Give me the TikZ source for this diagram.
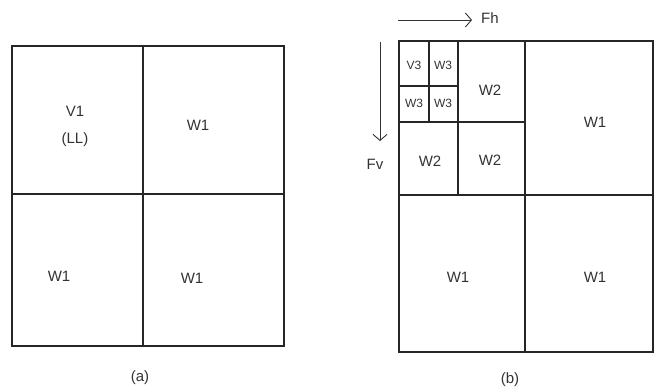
\documentclass[tikz,border=0pt]{standalone}
\usepackage{fontspec}
\setmainfont{Liberation Sans}
\usetikzlibrary{arrows.meta}
\begin{document}
\begin{tikzpicture}[x=1pt,y=-1pt,
  grid/.style={draw=black!85,line width=1.1pt},
  lbl/.style={font=\fontsize{15}{27}\selectfont,text=black!80,inner sep=0pt},
  small/.style={font=\fontsize{12}{13}\selectfont,text=black!80,inner sep=0pt},
  flow/.style={draw=black!80,line width=0.9pt,-{Straight Barb[length=6pt,width=14pt]}}]
\useasboundingbox (0,0) rectangle (656,389);
% (a)
\draw[grid] (12,46) rectangle (284,346);
\draw[grid] (143,46) -- (143,346);
\draw[grid] (12,194) -- (284,194);
\node[lbl,align=center] (v1) at (75,126) {V1\\(LL)};
\node[lbl] (a1) at (198,125) {W1};
\node[lbl] (a2) at (59,276) {W1};
\node[lbl] (a3) at (192,278) {W1};
\node[lbl] (capa) at (140,378) {(a)};
% (b)
\draw[grid] (399,41) rectangle (653,352);
\draw[grid] (525,41) -- (525,352);
\draw[grid] (399,195) -- (653,195);
\draw[grid] (458,41) -- (458,195);
\draw[grid] (399,122) -- (525,122);
\draw[grid] (429,41) -- (429,122);
\draw[grid] (399,86) -- (458,86);
\node[small] (v3) at (414,65) {V3};
\node[small] (w3a) at (443,65) {W3};
\node[small] (w3b) at (414,103) {W3};
\node[small] (w3c) at (443,103) {W3};
\node[lbl] (w2a) at (490,90) {W2};
\node[lbl] (w2b) at (430,161) {W2};
\node[lbl] (w2c) at (490,160) {W2};
\node[lbl] (b1) at (595,122) {W1};
\node[lbl] (b2) at (458,277) {W1};
\node[lbl] (b3) at (595,277) {W1};
\node[lbl] (capb) at (510,380) {(b)};
\coordinate (fhs) at (398,20);
\coordinate (fhe) at (472,20);
\draw[flow] (fhs) -- (fhe);
\node[lbl,anchor=west] (fh) at (481,18) {Fh};
\coordinate (fvs) at (380,42);
\coordinate (fve) at (380,141);
\draw[flow] (fvs) -- (fve);
\node[lbl] (fv) at (375,164) {Fv};
\end{tikzpicture}
\end{document}
